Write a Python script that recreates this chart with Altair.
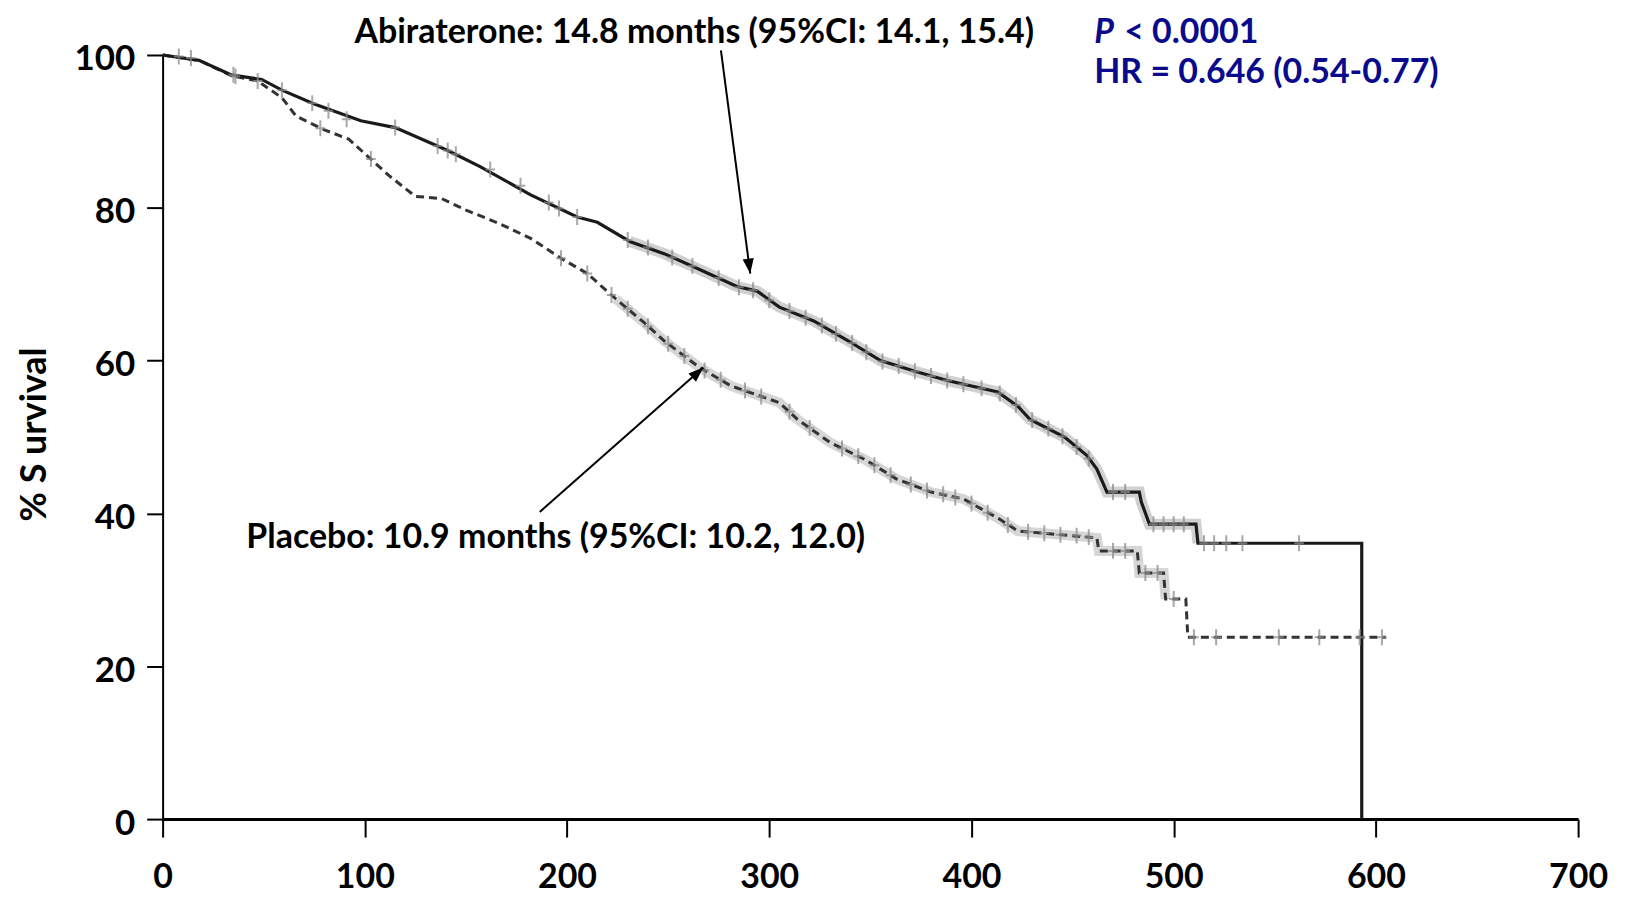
import altair as alt
import pandas as pd

# ---- Kaplan-Meier curves (days, % survival) ----
abi_t = [0, 18, 34, 49, 59, 75, 98, 115, 141, 157, 182, 205, 215, 231, 248, 265, 284, 294, 305, 322,
         339, 355, 372, 388, 413, 423, 429, 446, 457, 462, 467, 483, 484, 488, 511, 512, 593, 593]
abi_s = [100, 99.3, 97.4, 96.8, 95.4, 93.6, 91.4, 90.5, 87.5, 85.4, 81.7, 78.8, 78.1, 75.6, 74.0, 72.0,
         69.7, 69.1, 67.0, 65.2, 62.6, 60.0, 58.6, 57.4, 55.9, 54.0, 52.3, 50.0, 47.6, 45.8, 42.8, 42.8,
         41.5, 38.6, 38.6, 36.1, 36.1, 0]

pla_t = [0, 18, 34, 47, 59, 66, 80, 92, 102, 112, 125, 138, 150, 166, 182, 197, 210, 224, 238, 248,
         265, 281, 305, 314, 330, 347, 363, 380, 396, 413, 423, 462, 463, 482, 483, 495, 496, 506, 507, 605]
pla_s = [100, 99.3, 97.3, 96.6, 94.4, 92.0, 90.2, 89.0, 86.6, 84.2, 81.5, 81.2, 79.7, 78.0, 76.0, 73.4,
         71.4, 68.1, 65.0, 62.6, 59.2, 56.7, 54.5, 52.3, 49.3, 47.1, 44.5, 42.8, 41.9, 39.4, 37.7, 36.8,
         35.1, 35.1, 32.2, 32.2, 28.8, 28.8, 23.8, 23.8]

# ---- censor marks ----
abi_cens_t = [8, 14, 35, 59, 74, 82, 91, 115, 136, 141, 145, 162, 177, 191, 196, 205, 230, 240, 252, 262,
              275, 285, 292, 300, 310, 318, 326, 333, 341, 348, 356, 364, 372, 380, 388, 396, 405, 414, 422, 430,
              438, 445, 452, 458, 470, 476, 490, 495, 500, 505, 515, 520, 526, 534, 562]
abi_cens_s = [99.8, 99.6, 97.4, 95.4, 93.7, 92.7, 91.6, 90.5, 88.1, 87.5, 87.0, 85.0, 82.9, 80.7, 79.9, 78.8,
              75.8, 74.8, 73.5, 72.4, 70.8, 69.6, 69.2, 67.9, 66.5, 65.6, 64.6, 63.5, 62.3, 61.1, 59.9, 59.3,
              58.6, 58.0, 57.4, 56.9, 56.4, 55.7, 54.2, 52.2, 51.1, 50.1, 48.7, 47.2, 42.8, 42.8, 38.6, 38.6,
              38.6, 38.6, 36.1, 36.1, 36.1, 36.1, 36.1]

pla_cens_t = [36, 47, 78, 103, 197, 210, 222, 230, 240, 250, 258, 268, 276, 288, 296, 310, 320, 336, 344, 352,
              360, 370, 378, 386, 392, 400, 408, 418, 428, 436, 444, 452, 458, 470, 476, 486, 492, 500, 510, 521,
              552, 572, 592, 603]
pla_cens_s = [97.2, 96.6, 90.4, 86.4, 73.4, 71.4, 68.6, 66.8, 64.5, 62.2, 60.6, 58.7, 57.5, 56.1, 55.3, 53.3,
              51.2, 48.5, 47.5, 46.3, 45.0, 43.8, 43.0, 42.5, 42.1, 41.3, 40.1, 38.5, 37.6, 37.4, 37.2, 37.1,
              36.9, 35.1, 35.1, 32.2, 32.2, 28.8, 23.8, 23.8, 23.8, 23.8, 23.8, 23.8]

x_ticks = [0, 100, 200, 300, 400, 500, 600, 700]
y_ticks = [0, 20, 40, 60, 80, 100]

# ---- annotations (data coordinates) ----
ann_text = ["Abiraterone: 14.8 months (95%CI: 14.1, 15.4)", "Placebo: 10.9 months (95%CI: 10.2, 12.0)"]
ann_x = [262.9, 194.4]
ann_y = [102.9, 36.8]

p_text = ["P"]
p_x = [460.7]
p_y = [102.9]
stat_text = ["< 0.0001", "HR = 0.646 (0.54-0.77)"]
stat_x = [475.5, 460.7]
stat_y = [102.9, 97.6]

arrow_x = [276.1, 186.5]
arrow_y = [100.6, 40.2]
arrow_x2 = [290.6, 267.4]
arrow_y2 = [71.4, 59.1]
arrow_angle = [172.1, 47.9]

FONT = "Lato"
BLUE = "#0a0a8c"

abi = pd.DataFrame({"t": abi_t, "s": abi_s, "o": list(range(len(abi_t)))})
pla = pd.DataFrame({"t": pla_t, "s": pla_s, "o": list(range(len(pla_t)))})
abi_c = pd.DataFrame({"t": abi_cens_t, "s": abi_cens_s})
pla_c = pd.DataFrame({"t": pla_cens_t, "s": pla_cens_s})
ann = pd.DataFrame({"t": ann_x, "s": ann_y, "label": ann_text})
pdf = pd.DataFrame({"t": p_x, "s": p_y, "label": p_text})
stats = pd.DataFrame({"t": stat_x, "s": stat_y, "label": stat_text})
arrows = pd.DataFrame({"t": arrow_x, "s": arrow_y, "t2": arrow_x2, "s2": arrow_y2, "ang": arrow_angle})

XS = alt.Scale(domain=[0, 700], nice=False)
YS = alt.Scale(domain=[0, 100], nice=False)
X = alt.X("t:Q", scale=XS,
          axis=alt.Axis(values=x_ticks, title=None, format="d", tickSize=18, tickWidth=2,
                        domainWidth=3, labelPadding=24, labelFontSize=34))
Y = alt.Y("s:Q", scale=YS,
          axis=alt.Axis(values=y_ticks, title="% S urvival", format="d", tickSize=16, tickWidth=2,
                        domainWidth=2, labelPadding=12, labelFontSize=35, labelOffset=4,
                        titleFontSize=36, titleX=-128, titleY=380, titleAngle=270,
                        titleAlign="center", titleBaseline="middle"))

halo_abi = alt.Chart(abi).transform_filter("datum.t >= 222 && datum.t <= 512").mark_line(
    color="#8a8a8a", strokeWidth=11, opacity=0.4).encode(x=X, y=Y, order="o:Q")
halo_pla = alt.Chart(pla).transform_filter("datum.t >= 222 && datum.t <= 500").mark_line(
    color="#8a8a8a", strokeWidth=10, opacity=0.35).encode(x=X, y=Y, order="o:Q")

cens_shape = "M0,-1L0,1M-0.6,0L0.6,0"
cens_abi = alt.Chart(abi_c).mark_point(shape=cens_shape, filled=False, size=256, color="#8c8c8c",
                                       strokeWidth=2, opacity=0.75).encode(x=X, y=Y)
cens_pla = alt.Chart(pla_c).mark_point(shape=cens_shape, filled=False, size=256, color="#8c8c8c",
                                       strokeWidth=2, opacity=0.75).encode(x=X, y=Y)

line_abi = alt.Chart(abi).mark_line(color="#1a1a1a", strokeWidth=3.2).encode(x=X, y=Y, order="o:Q")
line_pla = alt.Chart(pla).mark_line(color="#333333", strokeWidth=3, strokeDash=[8, 5]).encode(
    x=X, y=Y, order="o:Q")

shafts = alt.Chart(arrows).mark_rule(color="black", strokeWidth=2).encode(
    x=X, y=Y, x2="t2:Q", y2="s2:Q")
heads = alt.Chart(arrows).mark_point(shape="M0,0L0.75,2L-0.75,2Z", filled=True, size=225,
                                     color="black", opacity=1).encode(
    x=alt.X("t2:Q", scale=XS),
    y=alt.Y("s2:Q", scale=YS),
    angle=alt.Angle("ang:Q", scale=None))

ann_layer = alt.Chart(ann).mark_text(font=FONT, fontSize=34, fontWeight="bold", color="black",
                                     align="center", baseline="middle").encode(x=X, y=Y, text="label:N")
p_layer = alt.Chart(pdf).mark_text(font=FONT, fontSize=34, fontWeight="bold", fontStyle="italic",
                                   color=BLUE, align="left", baseline="middle").encode(
    x=X, y=Y, text="label:N")
stat_layer = alt.Chart(stats).mark_text(font=FONT, fontSize=34, fontWeight="bold", color=BLUE,
                                        align="left", baseline="middle").encode(
    x=X, y=Y, text="label:N")

chart = alt.layer(
    halo_abi, halo_pla, line_pla, line_abi, cens_pla, cens_abi, shafts, heads, ann_layer, p_layer,
    stat_layer
).properties(
    width=1419, height=766,
    padding={"left": 155, "top": 46, "right": 45, "bottom": 80},
    autosize=alt.AutoSizeParams(type="none"),
).configure_view(stroke=None).configure_axis(
    grid=False, domainColor="black", tickColor="black", labelColor="black", titleColor="black",
    labelFont=FONT, titleFont=FONT, labelFontWeight="bold", titleFontWeight="bold",
    labelOverlap=False, labelBound=False, labelFlush=False,
)

chart.save("out.html", embed_options={"renderer": "svg", "actions": False})
